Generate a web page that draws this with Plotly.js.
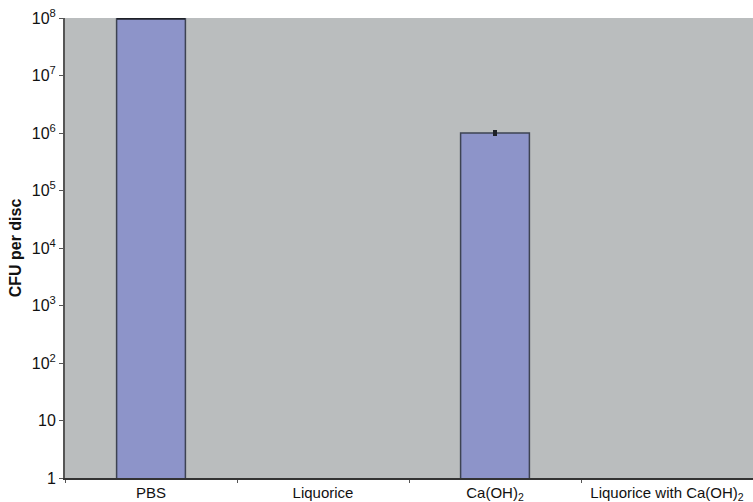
<!DOCTYPE html>
<html>
<head>
<meta charset="utf-8">
<script src="https://cdn.plot.ly/plotly-3.0.1.min.js"></script>
<style>html,body{margin:0;padding:0;background:#fff;}#chart{width:753px;height:502px;}</style>
</head>
<body>
<div id="chart"></div>
<script>
var categories = ["PBS", "Liquorice", "Ca(OH)<sub>2</sub>", "Liquorice with Ca(OH)<sub>2</sub>"];
var cfuValues = [1e8, null, 1e6, null];
var errorValues = [1e6, null, 4e4, null];
var yTickVals = [1, 10, 100, 1000, 10000, 100000, 1000000, 10000000, 100000000];
var yTickText = ["1", "10", "10<sup>2</sup>", "10<sup>3</sup>", "10<sup>4</sup>", "10<sup>5</sup>", "10<sup>6</sup>", "10<sup>7</sup>", "10<sup>8</sup>"];

var bars = {
  type: "bar",
  x: categories.slice(1),
  y: cfuValues.slice(1),
  width: 0.4,
  marker: {color: "#8d94c9", line: {color: "#3d4352", width: 1.5}},
  error_y: {type: "data", array: errorValues.slice(1), symmetric: true, visible: true, color: "#1e2128", thickness: 4, width: 2}
};

// PBS bar with its dark top cap (short error bar drawn across the bar)
var pbsBar = {
  type: "bar",
  x: [categories[0]],
  y: [cfuValues[0]],
  width: 0.4,
  cliponaxis: false,
  marker: {color: "#8d94c9", line: {color: "#3d4352", width: 1.5}},
  error_y: {type: "data", array: [errorValues[0]], symmetric: true, visible: true, color: "#1e2128", thickness: 3, width: 34}
};

var layout = {
  width: 753, height: 502,
  margin: {l: 65, r: 0, t: 18, b: 24},
  paper_bgcolor: "#ffffff",
  plot_bgcolor: "#babdbe",
  showlegend: false,
  barmode: "overlay",
  font: {family: "Liberation Sans, Arial, sans-serif", color: "#111", size: 15},
  xaxis: {
    type: "category",
    categoryorder: "array", categoryarray: categories,
    tickson: "boundaries",
    ticks: "outside", ticklen: 3, tickcolor: "#555",
    showline: true, linecolor: "#333", linewidth: 2,
    showgrid: false, zeroline: false,
    tickfont: {size: 15}
  },
  yaxis: {
    type: "log",
    range: [0, 8],
    tickvals: yTickVals, ticktext: yTickText,
    ticks: "outside", ticklen: 4, tickcolor: "#555",
    showline: true, linecolor: "#555", linewidth: 2,
    showgrid: false, zeroline: false,
    tickfont: {size: 16},
    title: {text: "<b>CFU per disc</b>", font: {size: 16}, standoff: 6}
  }
};

Plotly.newPlot("chart", [pbsBar, bars], layout, {displayModeBar: false, staticPlot: true});
</script>
</body>
</html>
